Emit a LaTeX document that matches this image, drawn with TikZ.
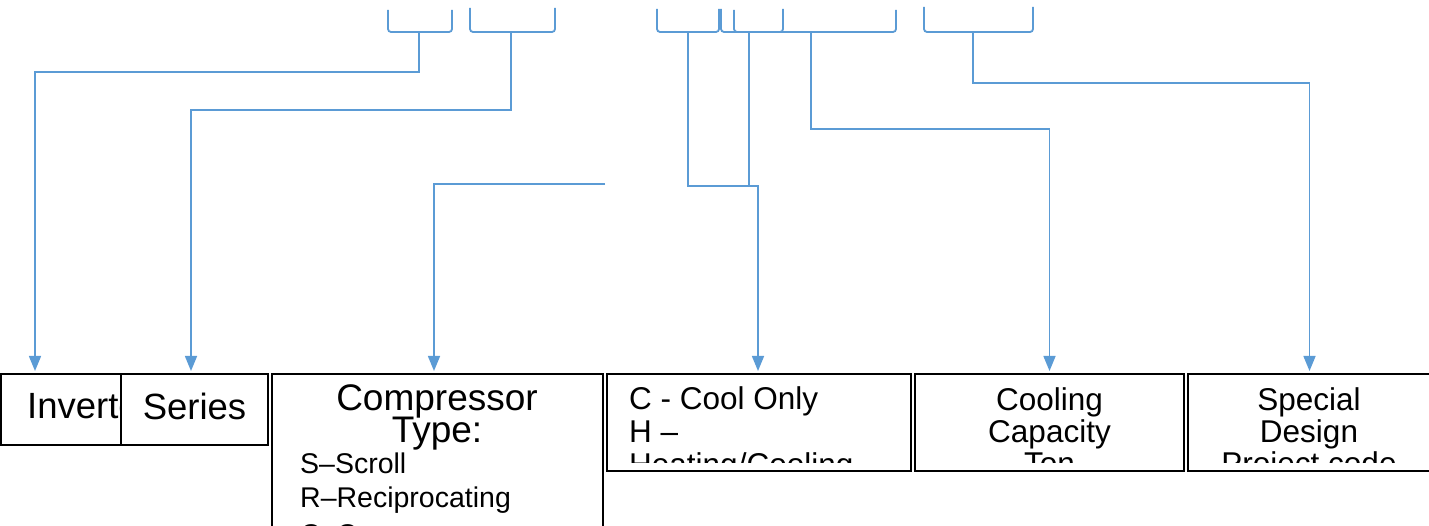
\documentclass[tikz,border=0pt]{standalone}
\usepackage{fontspec}
\setmainfont{Liberation Sans}
\usetikzlibrary{arrows.meta}
\definecolor{lblue}{HTML}{5B9BD5}
\tikzset{
  box/.style={draw=black, line width=2pt, fill=white, inner sep=0pt, outer sep=0pt, anchor=north west},
  brk/.style={draw=lblue, line width=1.8pt, rounded corners=3pt},
  conn/.style={draw=lblue, line width=1.5pt, -{Triangle[width=12pt,length=15pt]}, shorten >=3pt},
  big/.style={font=\fontsize{36.5}{40}\selectfont, inner sep=0pt, anchor=base},
  mid/.style={font=\fontsize{31.5}{34}\selectfont, inner sep=0pt, anchor=base},
  small/.style={font=\fontsize{28.5}{32}\selectfont, inner sep=0pt, anchor=base west}
}
\begin{document}
\begin{tikzpicture}[x=1pt, y=-1pt]
\clip (0,0) rectangle (1429,526);
\fill[white] (0,0) rectangle (1429,526);

% brackets grouping the positions of the model code
\draw[brk] (388,10) -- (388,32) -- (452,32) -- (452,10);
\draw[brk] (470,8) -- (470,32) -- (555,32) -- (555,8);
\draw[brk] (657,9) -- (657,32) -- (719,32) -- (719,9);
\draw[brk] (721,9) -- (721,32) -- (783,32) -- (783,9);
\draw[brk] (734,10) -- (734,32) -- (896,32) -- (896,10);
\draw[brk] (924,7) -- (924,32) -- (1033,32) -- (1033,7);

\coordinate (s1) at (419,32);
\coordinate (s2) at (511,32);
\coordinate (s3) at (688,32);
\coordinate (s4) at (749,32);
\coordinate (s5) at (811,32);
\coordinate (s6) at (973,32);
\coordinate (f3) at (605,184);

\coordinate (k1) at (419,72);
\coordinate (k2) at (511,110);
\coordinate (k3) at (688,186);
\coordinate (k4) at (749,186);
\coordinate (k5) at (811,129);
\coordinate (k6) at (973,83);

% field boxes
\node[box, minimum width=163pt, minimum height=71pt] (b1) at (1,374) {};
\node[big, anchor=base west] (t1) at (27,418) {Inverter};
\node[box, minimum width=147pt, minimum height=71pt] (b2) at (121,374) {};
\node[big] (t2) at (194.5,419) {Series};

\node[box, minimum width=331pt, minimum height=180pt] (b3) at (272,374) {};
\node[big, font=\fontsize{37}{40}\selectfont] (t3a) at (437,410) {Compressor};
\node[big, font=\fontsize{37}{40}\selectfont] (t3b) at (437,442) {Type:};
\node[small] (t3c) at (300,473) {S–Scroll};
\node[small] (t3d) at (300,507) {R–Reciprocating};
\node[small] (t3e) at (300,544) {C–Compressor};

\node[box, minimum width=304pt, minimum height=97pt] (b4) at (607,374) {};
\node[box, minimum width=269pt, minimum height=97pt] (b5) at (915,374) {};
\node[box, minimum width=243pt, minimum height=97pt] (b6) at (1188,374) {};

\begin{scope}
  \clip (b4.north west) rectangle ([yshift=9pt]b4.south east);
  \node[mid, anchor=base west] (t4a) at (629,409) {C - Cool Only};
  \node[mid, anchor=base west] (t4b) at (629,442) {H –};
  \node[mid, anchor=base west] (t4c) at (629,475) {Heating/Cooling};
\end{scope}
\begin{scope}
  \clip (b5.north west) rectangle ([yshift=9pt]b5.south east);
  \node[mid] (t5a) at (1049.5,410) {Cooling};
  \node[mid] (t5b) at (1049.5,442) {Capacity};
  \node[mid] (t5c) at (1049.5,474) {Ton};
\end{scope}
\begin{scope}
  \clip (b6.north west) rectangle ([yshift=9pt]b6.south east);
  \node[mid] (t6a) at (1309,410) {Special};
  \node[mid] (t6b) at (1309,442) {Design};
  \node[mid] (t6c) at (1309,474) {Project code};
\end{scope}

% connectors from the brackets to the boxes
\draw[conn] (s1) -- (k1) -| ([xshift=34pt]b1.north west);
\draw[conn] (s2) -- (k2) -| ([xshift=-3.5pt]b2.north);
\draw[conn] (f3) -| ([xshift=-3.5pt]b3.north);
\draw[conn] (s3) -- (k3) -| ([xshift=-1pt]b4.north);
\draw[draw=lblue, line width=1.5pt] (s4) -- (k4);
\draw[conn] (s5) -- (k5) -| (b5.north);
\draw[conn] (s6) -- (k6) -| (b6.north);
\end{tikzpicture}
\end{document}
